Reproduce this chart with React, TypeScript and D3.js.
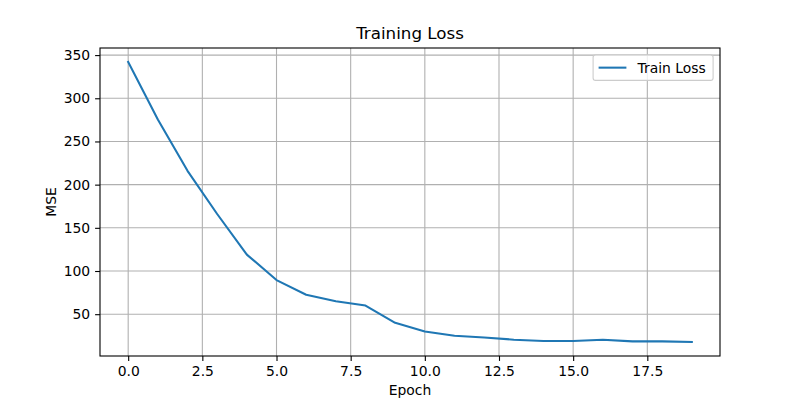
import { useEffect, useRef } from 'react';
import * as d3 from 'd3';

const epochs = [0, 1, 2, 3, 4, 5, 6, 7, 8, 9, 10, 11, 12, 13, 14, 15, 16, 17, 18, 19];
const trainLoss = [342, 275.5, 216, 166, 119, 89.5, 72.5, 65, 60, 40, 30, 25, 23, 20.5, 19, 19, 20.5, 18.5, 18.5, 17.8];
const xTicks = [0, 2.5, 5, 7.5, 10, 12.5, 15, 17.5];
const yTicks = [50, 100, 150, 200, 250, 300, 350];

const FONT = 'DejaVu Sans, sans-serif';

export default function App() {
  const ref = useRef<SVGSVGElement>(null);

  useEffect(() => {
    if (!ref.current) return;
    const W = 800, H = 400;
    const margin = { top: 48, right: 80, bottom: 44, left: 100 };
    const width = W - margin.left - margin.right;
    const height = H - margin.top - margin.bottom;

    // matplotlib-style 5% auto margins
    const xMin = d3.min(epochs)!, xMax = d3.max(epochs)!;
    const yMin = d3.min(trainLoss)!, yMax = d3.max(trainLoss)!;
    const xPad = (xMax - xMin) * 0.05, yPad = (yMax - yMin) * 0.05;

    const x = d3.scaleLinear().domain([xMin - xPad, xMax + xPad]).range([0, width]);
    const y = d3.scaleLinear().domain([yMin - yPad, yMax + yPad]).range([height, 0]);

    const svg = d3.select(ref.current);
    svg.selectAll('*').remove();
    svg.attr('width', W).attr('height', H).attr('viewBox', `0 0 ${W} ${H}`);
    svg.append('rect').attr('width', W).attr('height', H).attr('fill', '#fff');

    const g = svg.append('g').attr('transform', `translate(${margin.left},${margin.top})`);

    // grid
    g.append('g').selectAll('line').data(xTicks).enter().append('line')
      .attr('x1', d => x(d)).attr('x2', d => x(d)).attr('y1', 0).attr('y2', height)
      .attr('stroke', '#b0b0b0').attr('stroke-width', 1.1);
    g.append('g').selectAll('line').data(yTicks).enter().append('line')
      .attr('y1', d => y(d)).attr('y2', d => y(d)).attr('x1', 0).attr('x2', width)
      .attr('stroke', '#b0b0b0').attr('stroke-width', 1.1);

    // line
    const line = d3.line<number>()
      .x((_, i) => x(epochs[i]))
      .y(d => y(d));
    g.append('path').datum(trainLoss)
      .attr('d', line)
      .attr('fill', 'none')
      .attr('stroke', '#1f77b4')
      .attr('stroke-width', 2.08)
      .attr('stroke-linejoin', 'round')
      .attr('stroke-linecap', 'square');

    // axes
    const xAxis = d3.axisBottom(x).tickValues(xTicks).tickFormat(d3.format('.1f')).tickSize(4.9).tickPadding(4.9);
    const yAxis = d3.axisLeft(y).tickValues(yTicks).tickFormat(d3.format('d')).tickSize(4.9).tickPadding(4.9);

    const gx = g.append('g').attr('transform', `translate(0,${height})`).call(xAxis);
    const gy = g.append('g').call(yAxis);
    [gx, gy].forEach(a => {
      a.select('.domain').remove();
      a.selectAll('line').attr('stroke', '#000').attr('stroke-width', 1.1);
      a.selectAll('text').attr('fill', '#000').attr('font-family', FONT).attr('font-size', 13.9);
    });

    // spines
    g.append('rect').attr('width', width).attr('height', height)
      .attr('fill', 'none').attr('stroke', '#000').attr('stroke-width', 1.1);

    // labels
    svg.append('text').attr('x', margin.left + width / 2).attr('y', 39)
      .attr('text-anchor', 'middle').attr('font-family', FONT).attr('font-size', 16.7)
      .text('Training Loss');
    svg.append('text').attr('x', margin.left + width / 2).attr('y', 395)
      .attr('text-anchor', 'middle').attr('font-family', FONT).attr('font-size', 13.9)
      .text('Epoch');
    svg.append('text')
      .attr('transform', `translate(56,${margin.top + height / 2}) rotate(-90)`)
      .attr('text-anchor', 'middle').attr('font-family', FONT).attr('font-size', 13.9)
      .text('MSE');

    // legend
    const lg = svg.append('g').attr('transform', `translate(${margin.left + width - 6.9},${margin.top + 6.9})`);
    const lw = 120, lh = 25.5;
    lg.append('rect').attr('x', -lw).attr('y', 0).attr('width', lw).attr('height', lh)
      .attr('rx', 2.5).attr('fill', 'rgba(255,255,255,0.8)').attr('stroke', '#cccccc').attr('stroke-width', 1.1);
    lg.append('line').attr('x1', -lw + 5.5).attr('x2', -lw + 33.3).attr('y1', lh / 2).attr('y2', lh / 2)
      .attr('stroke', '#1f77b4').attr('stroke-width', 2.08);
    lg.append('text').attr('x', -lw + 44.5).attr('y', lh / 2).attr('dy', '0.35em')
      .attr('font-family', FONT).attr('font-size', 13.9).text('Train Loss');
  }, []);

  return <svg ref={ref} style={{ position: 'absolute', left: 0, top: 0, display: 'block' }} />;
}
